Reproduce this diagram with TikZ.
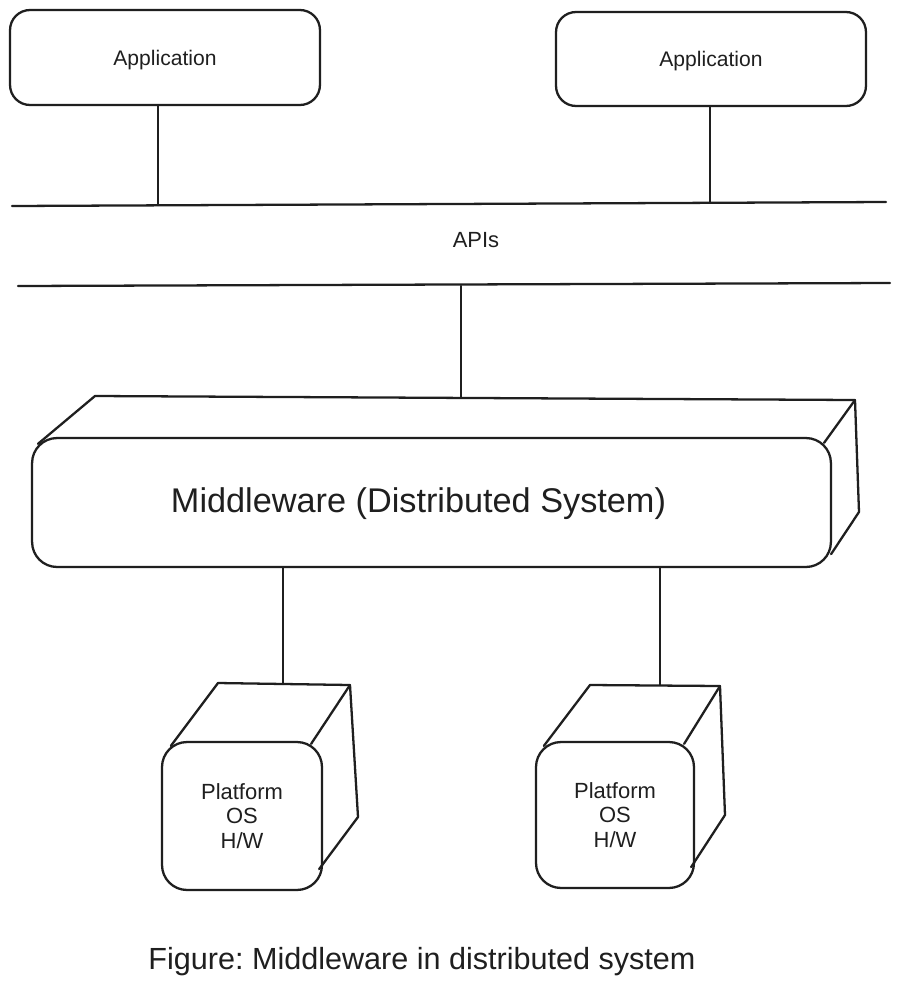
\documentclass[tikz,border=0pt]{standalone}
\usepackage{fontspec}
\setmainfont{Liberation Sans}
\usetikzlibrary{calc}
\frenchspacing

\tikzset{
  sketch/.style={line width=1.3pt, line cap=round, line join=round},
  box/.style={sketch, draw, rounded corners=#1, inner sep=0pt, align=center},
  box/.default=0.4cm
}

\begin{document}
\begin{tikzpicture}[x=0.02cm, y=-0.02cm, color=black!88]
  \fill[white] (0,0) rectangle (900,988);
  \useasboundingbox (0,0) rectangle (900,988);
  % applications on top
  \node[box, minimum width=6.2cm, minimum height=1.9cm, text depth=-0.02cm, font=\fontsize{12}{14}\selectfont] (app1) at (165,57.5) {Application};
  \node[box, minimum width=6.2cm, minimum height=1.88cm, text depth=-0.02cm, font=\fontsize{12}{14}\selectfont] (app2) at (711,59) {Application};
  % API bars
  \coordinate (api1L) at (12,206);
  \coordinate (api1R) at (886,202);
  \coordinate (api2L) at (18,286);
  \coordinate (api2R) at (890,283);
  \draw[sketch] (api1L) -- (api1R);
  \draw[sketch] (api2L) -- (api2R);
  \node[font=\fontsize{12.5}{15}\selectfont] (apis) at (476,240) {APIs};
  \coordinate (app1bus) at (158,205);
  \coordinate (app2bus) at (710,202);
  \draw[sketch] (app1.south -| app1bus) -- (app1bus);
  \draw[sketch] (app2.south -| app2bus) -- (app2bus);
  % middleware block
  \node[box=0.5cm, minimum width=15.98cm, minimum height=2.58cm] (mw) at (431.5,502.5) {};
  \node[font=\fontsize{19.5}{22}\selectfont] (mwlabel) at ([xshift=-0.26cm, yshift=-0.02cm]mw.center) {Middleware (Distributed System)};
  \coordinate (mwTL) at (95,396);
  \coordinate (mwTR) at (855,400);
  \coordinate (mwRB) at (859,512);
  \draw[sketch] ($(mw.north west)+(7,7)$) -- (mwTL) -- (mwTR) -- (mwRB) -- ($(mw.south east)+(-1,-14)$);
  \draw[sketch] (mwTR) -- ($(mw.north east)+(-8,6)$);
  \coordinate (mwtop) at (461,397);
  \draw[sketch] (mwtop |- api2L) -- (mwtop);
  % platforms
  \node[box=0.5cm, minimum width=3.2cm, minimum height=2.96cm, font=\fontsize{12.5}{14}\selectfont] (pf1) at (242,816) {Platform\\OS\\H/W};
  \coordinate (pf1TL) at (218,683);
  \coordinate (pf1TR) at (350,685);
  \coordinate (pf1RB) at (358,817);
  \draw[sketch] ($(pf1.north west)+(10,5)$) -- (pf1TL) -- (pf1TR) -- (pf1RB) -- ($(pf1.south east)+(-4,-22)$);
  \draw[sketch] (pf1TR) -- ($(pf1.north east)+(-12,3)$);
  \coordinate (pf1top) at (283,684);
  \draw[sketch] (mw.south -| pf1top) -- (pf1top);
  \node[box=0.5cm, minimum width=3.16cm, minimum height=2.92cm, font=\fontsize{12.5}{14}\selectfont] (pf2) at (615,815) {Platform\\OS\\H/W};
  \coordinate (pf2TL) at (590,685);
  \coordinate (pf2TR) at (720,686);
  \coordinate (pf2RB) at (725,815);
  \draw[sketch] ($(pf2.north west)+(9,5)$) -- (pf2TL) -- (pf2TR) -- (pf2RB) -- ($(pf2.south east)+(-4,-22)$);
  \draw[sketch] (pf2TR) -- ($(pf2.north east)+(-11,3)$);
  \coordinate (pf2top) at (660,685);
  \draw[sketch] (mw.south -| pf2top) -- (pf2top);
  % caption
  \node[font=\fontsize{17.4}{20}\selectfont] (cap) at (422,962) {Figure: Middleware in distributed system};
\end{tikzpicture}
\end{document}
